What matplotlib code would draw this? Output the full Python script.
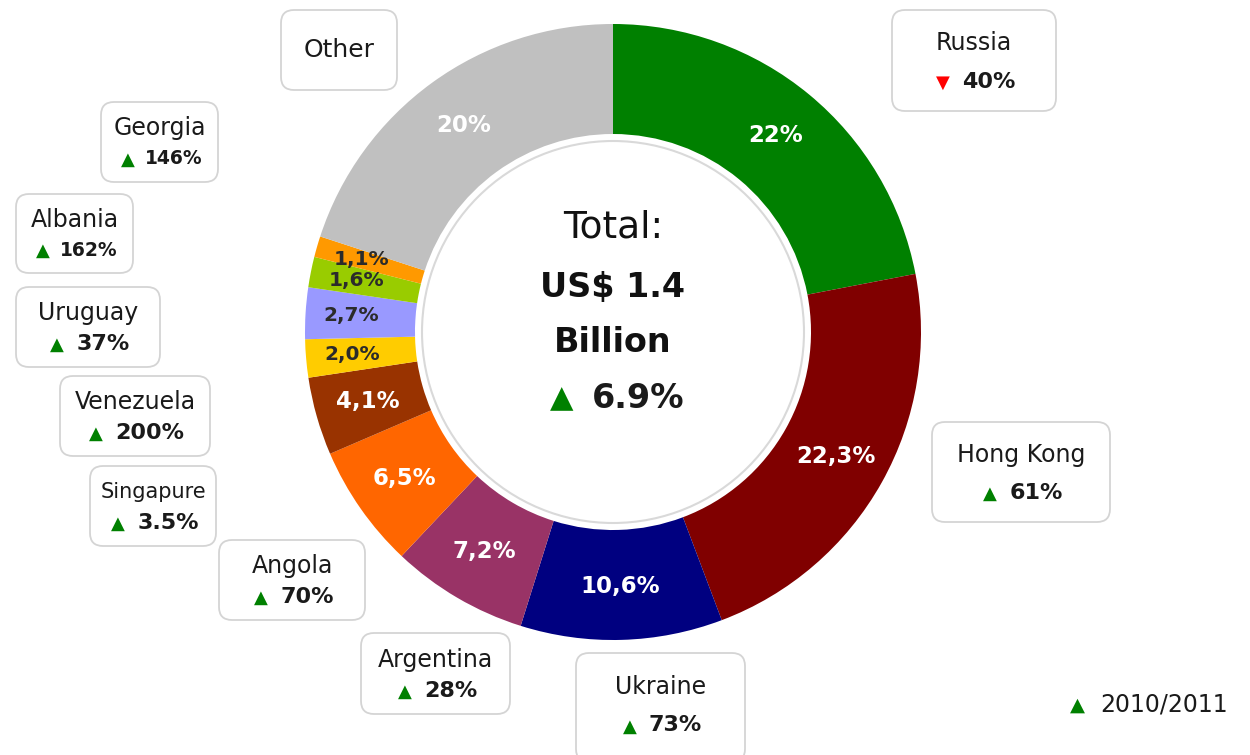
import matplotlib
matplotlib.use("Agg")
import matplotlib.pyplot as plt
import numpy as np
from matplotlib.patches import FancyBboxPatch, Circle
from matplotlib.offsetbox import TextArea, HPacker, AnnotationBbox

# data (clockwise from 12 o'clock)
countries = ['Russia', 'Hong Kong', 'Ukraine', 'Argentina', 'Angola', 'Singapure',
             'Venezuela', 'Uruguay', 'Albania', 'Georgia', 'Other']
shares = [22.0, 22.3, 10.6, 7.2, 6.5, 4.1, 2.0, 2.7, 1.6, 1.1, 20.0]
share_labels = ['22%', '22,3%', '10,6%', '7,2%', '6,5%', '4,1%', '2,0%', '2,7%',
                '1,6%', '1,1%', '20%']
growth = ['40%', '61%', '73%', '28%', '70%', '3.5%', '200%', '37%', '162%', '146%', None]
growth_up = [False, True, True, True, True, True, True, True, True, True, None]
colors = ['#008000', '#800000', '#000080', '#993366', '#ff6600', '#993300',
          '#ffcc00', '#9999ff', '#99cc00', '#ff9900', '#c0c0c0']
total_text = ['Total:', 'US$ 1.4', 'Billion']
total_growth = '6.9%'
period = '2010/2011'

W, H = 1250, 755


def Y(py):
    # image pixel row -> data y
    return H - py


# label boxes in pixel coords (x0, y0, x1, y1)
boxes = {
    'Russia': (892, 10, 1056, 111),
    'Hong Kong': (932, 422, 1110, 522),
    'Ukraine': (576, 653, 745, 762),
    'Argentina': (361, 633, 510, 714),
    'Angola': (219, 540, 365, 620),
    'Singapure': (90, 466, 216, 546),
    'Venezuela': (60, 376, 210, 456),
    'Uruguay': (16, 287, 160, 367),
    'Albania': (16, 194, 133, 273),
    'Georgia': (101, 102, 218, 182),
    'Other': (281, 10, 397, 90),
}
name_size = {'Singapure': 15}
pct_size = {'Georgia': 13.5, 'Albania': 13.5}

fig = plt.figure(figsize=(12.5, 7.55), dpi=100)
ax = fig.add_axes([0, 0, 1, 1])

cx, cy = 613, Y(332)
wedges, _ = ax.pie(shares, colors=colors, startangle=90, counterclock=False,
                   radius=308, center=(cx, cy), frame=True,
                   wedgeprops=dict(width=110, linewidth=0))

ax.set_xlim(0, W)
ax.set_ylim(0, H)
ax.axis('off')

# inner grey ring
ax.add_patch(Circle((cx, cy), 191, fill=False, edgecolor='#d9d9d9', lw=1.5))

# slice percentages
for w, lab, sh in zip(wedges, share_labels, shares):
    ang = np.deg2rad((w.theta1 + w.theta2) / 2)
    small = sh < 3
    r = 262 if small else 255
    ax.text(cx + r * np.cos(ang), cy + r * np.sin(ang), lab,
            ha='center', va='center', fontsize=14.5 if small else 16.5,
            fontweight='bold', color='#2b2b2b' if small else 'white')

# centre text
ax.text(cx, Y(228), total_text[0], ha='center', va='center', fontsize=27, color='#111111')
ax.text(cx, Y(287), total_text[1], ha='center', va='center', fontsize=24,
        fontweight='bold', color='#111111')
ax.text(cx, Y(342), total_text[2], ha='center', va='center', fontsize=24,
        fontweight='bold', color='#111111')


def arrow_line(x, y, up, pct, size, tri_size):
    tri = TextArea('▲' if up else '▼',
                   textprops=dict(color='#008000' if up else '#ff0000', fontsize=tri_size))
    num = TextArea(pct, textprops=dict(color='#1a1a1a', fontsize=size, fontweight='bold'))
    pack = HPacker(children=[tri, num], align='baseline', pad=0, sep=size * 0.55)
    ab = AnnotationBbox(pack, (x, y), xycoords='data', frameon=False,
                        box_alignment=(0.5, 0.5), pad=0)
    ax.add_artist(ab)


arrow_line(cx + 4, Y(398), True, total_growth, 24, 22)

# country boxes
for name, g, up in zip(countries, growth, growth_up):
    x0, y0, x1, y1 = boxes[name]
    h = y1 - y0
    patch = FancyBboxPatch((x0, Y(y1)), x1 - x0, h,
                           boxstyle='round,pad=0,rounding_size=13',
                           facecolor='white', edgecolor='#d4d4d4', lw=1.3, zorder=3)
    ax.add_patch(patch)
    bx = (x0 + x1) / 2
    if g is None:
        ax.text(bx, Y((y0 + y1) / 2), name, ha='center', va='center',
                fontsize=18, color='#1a1a1a', zorder=4)
        continue
    ax.text(bx, Y(y0 + 0.33 * min(h, 102)), name, ha='center', va='center',
            fontsize=name_size.get(name, 17), color='#1a1a1a', zorder=4)
    arrow_line(bx + 2, Y(y0 + 0.71 * min(h, 102)), up, g,
               pct_size.get(name, 16), 13)

# period legend
ax.text(1077, Y(705), '▲', ha='center', va='center', fontsize=14, color='#008000')
ax.text(1100, Y(705), period, ha='left', va='center', fontsize=17, color='#1a1a1a')

fig.savefig('out.png', dpi=100)
